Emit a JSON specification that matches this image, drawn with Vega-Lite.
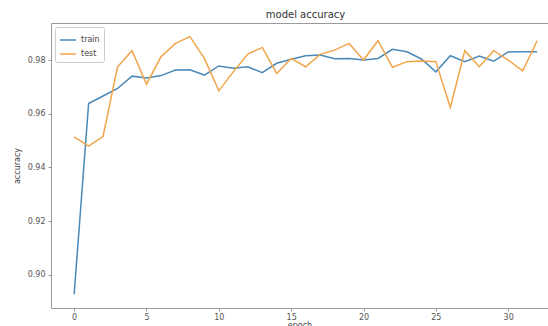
{
  "$schema": "https://vega.github.io/schema/vega-lite/v6.json",
  "width": 497,
  "height": 285,
  "autosize": {"type": "none"},
  "padding": {"left": 51, "top": 23, "right": 0, "bottom": 18},
  "background": "white",
  "title": {"text": "model accuracy", "fontSize": 10, "font": "DejaVu Sans", "fontWeight": "normal", "color": "#333", "anchor": "middle", "dx": 6, "offset": 3},
  "config": {
    "view": {"stroke": null},
    "axis": {"labelFont": "DejaVu Sans", "titleFont": "DejaVu Sans", "labelFontSize": 8, "titleFontSize": 8, "labelColor": "#555", "titleColor": "#444", "titleFontWeight": "normal", "domainColor": "#999", "tickColor": "#999", "tickSize": 3, "grid": false}
  },
  "data": {"values": [
    {"epoch": 0, "series": "train", "accuracy": 0.8927},
    {"epoch": 1, "series": "train", "accuracy": 0.9638},
    {"epoch": 2, "series": "train", "accuracy": 0.9666},
    {"epoch": 3, "series": "train", "accuracy": 0.9694},
    {"epoch": 4, "series": "train", "accuracy": 0.9740},
    {"epoch": 5, "series": "train", "accuracy": 0.9733},
    {"epoch": 6, "series": "train", "accuracy": 0.9742},
    {"epoch": 7, "series": "train", "accuracy": 0.9763},
    {"epoch": 8, "series": "train", "accuracy": 0.9764},
    {"epoch": 9, "series": "train", "accuracy": 0.9744},
    {"epoch": 10, "series": "train", "accuracy": 0.9778},
    {"epoch": 11, "series": "train", "accuracy": 0.9769},
    {"epoch": 12, "series": "train", "accuracy": 0.9775},
    {"epoch": 13, "series": "train", "accuracy": 0.9753},
    {"epoch": 14, "series": "train", "accuracy": 0.9788},
    {"epoch": 15, "series": "train", "accuracy": 0.9803},
    {"epoch": 16, "series": "train", "accuracy": 0.9816},
    {"epoch": 17, "series": "train", "accuracy": 0.9819},
    {"epoch": 18, "series": "train", "accuracy": 0.9805},
    {"epoch": 19, "series": "train", "accuracy": 0.9806},
    {"epoch": 20, "series": "train", "accuracy": 0.9800},
    {"epoch": 21, "series": "train", "accuracy": 0.9806},
    {"epoch": 22, "series": "train", "accuracy": 0.9840},
    {"epoch": 23, "series": "train", "accuracy": 0.9831},
    {"epoch": 24, "series": "train", "accuracy": 0.9804},
    {"epoch": 25, "series": "train", "accuracy": 0.9756},
    {"epoch": 26, "series": "train", "accuracy": 0.9816},
    {"epoch": 27, "series": "train", "accuracy": 0.9794},
    {"epoch": 28, "series": "train", "accuracy": 0.9815},
    {"epoch": 29, "series": "train", "accuracy": 0.9796},
    {"epoch": 30, "series": "train", "accuracy": 0.9830},
    {"epoch": 31, "series": "train", "accuracy": 0.9831},
    {"epoch": 32, "series": "train", "accuracy": 0.9831},
    {"epoch": 0, "series": "test", "accuracy": 0.9514},
    {"epoch": 1, "series": "test", "accuracy": 0.9479},
    {"epoch": 2, "series": "test", "accuracy": 0.9516},
    {"epoch": 3, "series": "test", "accuracy": 0.9775},
    {"epoch": 4, "series": "test", "accuracy": 0.9835},
    {"epoch": 5, "series": "test", "accuracy": 0.9710},
    {"epoch": 6, "series": "test", "accuracy": 0.9812},
    {"epoch": 7, "series": "test", "accuracy": 0.9862},
    {"epoch": 8, "series": "test", "accuracy": 0.9887},
    {"epoch": 9, "series": "test", "accuracy": 0.9806},
    {"epoch": 10, "series": "test", "accuracy": 0.9685},
    {"epoch": 11, "series": "test", "accuracy": 0.9756},
    {"epoch": 12, "series": "test", "accuracy": 0.9822},
    {"epoch": 13, "series": "test", "accuracy": 0.9847},
    {"epoch": 14, "series": "test", "accuracy": 0.9750},
    {"epoch": 15, "series": "test", "accuracy": 0.9806},
    {"epoch": 16, "series": "test", "accuracy": 0.9775},
    {"epoch": 17, "series": "test", "accuracy": 0.9821},
    {"epoch": 18, "series": "test", "accuracy": 0.9837},
    {"epoch": 19, "series": "test", "accuracy": 0.9862},
    {"epoch": 20, "series": "test", "accuracy": 0.9800},
    {"epoch": 21, "series": "test", "accuracy": 0.9872},
    {"epoch": 22, "series": "test", "accuracy": 0.9773},
    {"epoch": 23, "series": "test", "accuracy": 0.9794},
    {"epoch": 24, "series": "test", "accuracy": 0.9796},
    {"epoch": 25, "series": "test", "accuracy": 0.9794},
    {"epoch": 26, "series": "test", "accuracy": 0.9623},
    {"epoch": 27, "series": "test", "accuracy": 0.9835},
    {"epoch": 28, "series": "test", "accuracy": 0.9775},
    {"epoch": 29, "series": "test", "accuracy": 0.9835},
    {"epoch": 30, "series": "test", "accuracy": 0.9800},
    {"epoch": 31, "series": "test", "accuracy": 0.9760},
    {"epoch": 32, "series": "test", "accuracy": 0.9872}
  ]},
  "layer": [
    {
      "transform": [{"filter": "datum.series === 'train'"}],
      "mark": {"type": "line", "strokeWidth": 1.5},
      "encoding": {
        "x": {"field": "epoch", "type": "quantitative", "scale": {"domain": [-1.6, 32.75], "nice": false, "zero": false},
              "axis": {"orient": "bottom", "values": [0, 5, 10, 15, 20, 25, 30], "title": "epoch", "titlePadding": 0, "labelPadding": 2}},
        "y": {"field": "accuracy", "type": "quantitative", "scale": {"domain": [0.8876, 0.9938], "nice": false, "zero": false},
              "axis": {"values": [0.90, 0.92, 0.94, 0.96, 0.98], "format": ".2f", "title": "accuracy", "titlePadding": 6, "labelPadding": 3}},
        "color": {"field": "series", "type": "nominal", "sort": ["train", "test"],
                  "scale": {"domain": ["train", "test"], "range": ["#4a89b8", "#f0a54a"]},
                  "legend": {"title": null, "orient": "none", "legendX": 4, "legendY": 4, "symbolType": "stroke", "symbolSize": 250, "symbolStrokeWidth": 1.5, "labelFont": "DejaVu Sans", "labelFontSize": 8, "labelColor": "#444", "rowPadding": 1, "padding": 4, "strokeColor": "#ccc", "fillColor": "white", "cornerRadius": 2}}
      }
    },
    {
      "transform": [{"filter": "datum.series === 'test'"}],
      "mark": {"type": "line", "strokeWidth": 1.5},
      "encoding": {
        "x": {"field": "epoch", "type": "quantitative", "axis": {"orient": "top", "labels": false, "ticks": false, "title": null, "domain": true}},
        "y": {"field": "accuracy", "type": "quantitative"},
        "color": {"field": "series", "type": "nominal"}
      }
    }
  ],
  "resolve": {"axis": {"x": "independent"}}
}
